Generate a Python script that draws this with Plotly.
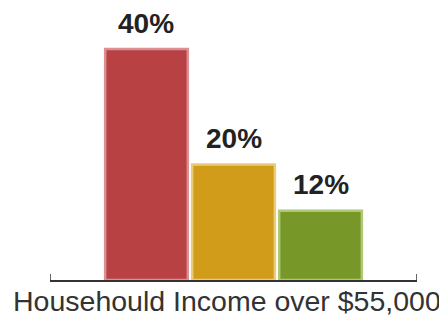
import plotly.graph_objects as go

categories = ["Red", "Gold", "Green"]
values = [40, 20, 12]
labels = ["40%", "20%", "12%"]
colors = ["#B84144", "#D09C1A", "#779829"]
edge_colors = ["#DB9193", "#EACB78", "#AFC873"]
axis_title = "Househould Income over $55,000"

xpos = list(range(len(values)))
x_range = [-1.109, 3.109]

fig = go.Figure()
fig.add_trace(go.Bar(
    x=xpos, y=values, width=0.95,
    marker=dict(color=colors, line=dict(color=edge_colors, width=2.5)),
    hoverinfo="skip",
))
for xi, v, t in zip(xpos, values, labels):
    fig.add_annotation(x=xi, y=v, text="<b>%s</b>" % t, showarrow=False,
                       yanchor="middle", yshift=26,
                       font=dict(family="Liberation Sans, Arial", size=28, color="#222222"))

fig.add_annotation(xref="paper", yref="paper", x=0.5, y=0, xshift=-7, yshift=-21,
                   xanchor="center", yanchor="middle", showarrow=False, text=axis_title,
                   borderpad=0,
                   font=dict(family="Liberation Sans, Arial", size=28.5, color="#333333"))

# small end ticks of the category axis
for xe in x_range:
    fig.add_shape(type="line", xref="x", yref="paper", x0=xe, x1=xe,
                  ysizemode="pixel", yanchor=0, y0=0, y1=6,
                  line=dict(color="#333333", width=1.5))

# page body has an 8px margin, so the figure is sized to fit the window inside it
fig.update_layout(
    width=439, height=308,
    margin=dict(l=42, r=30, t=18, b=36, autoexpand=False),
    paper_bgcolor="white", plot_bgcolor="white",
    showlegend=False,
    xaxis=dict(range=x_range, showline=True, linecolor="#333333", linewidth=1.5,
               showticklabels=False, ticks="", automargin=False,
               showgrid=False, zeroline=False),
    yaxis=dict(range=[0, 44], visible=False),
)
fig.write_html("out.html")
